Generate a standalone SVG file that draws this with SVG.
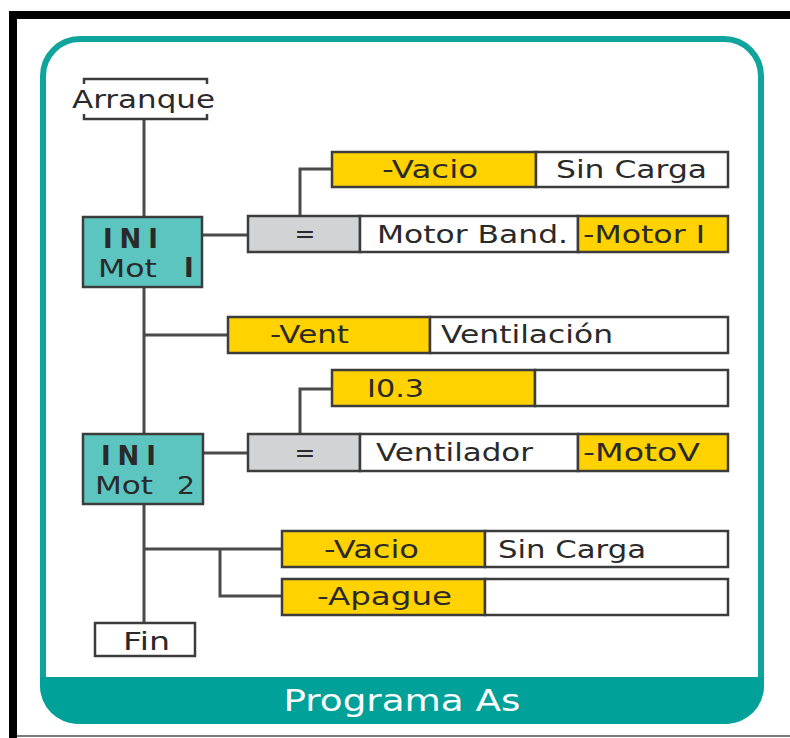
<svg xmlns="http://www.w3.org/2000/svg" width="790" height="738" viewBox="0 0 790 738">
  <style>
    text { font-family: "DejaVu Sans", "Liberation Sans", sans-serif; fill: #2a2a2a; }
    .lbl { font-size: 25px; }
    .box { stroke: #3c3c3c; stroke-width: 2.5; }
    .y { fill: #ffd200; }
    .w { fill: #ffffff; }
    .g { fill: #d1d3d4; }
    .t { fill: #5cc5bf; }
    .wire { fill: none; stroke: #4a4a4a; stroke-width: 3; }
    .ini { font-size: 26px; font-weight: bold; }
    .mot { font-size: 25px; }
  </style>

  <!-- page -->
  <rect x="0" y="0" width="790" height="738" fill="#ffffff"/>
  <rect x="9" y="11" width="781" height="8" fill="#000000"/>
  <rect x="9" y="11" width="8" height="727" fill="#000000"/>
  <rect x="17" y="735" width="773" height="2" fill="#7a7a7a"/>

  <!-- panel -->
  <rect x="43" y="39" width="718" height="682" rx="37" ry="37" fill="none" stroke="#0fa49c" stroke-width="6"/>
  <path d="M40 677 H764 V686 A38 38 0 0 1 726 724 H78 A38 38 0 0 1 40 686 Z" fill="#00a199"/>
  <text x="402" y="711" font-size="30" text-anchor="middle" textLength="237" lengthAdjust="spacingAndGlyphs" style="fill:#ffffff">Programa As</text>

  <!-- connectors -->
  <g id="connectors" class="wire">
    <path d="M144 119 V217"/>
    <path d="M144 287 V434"/>
    <path d="M144 504 V623"/>
    <path d="M202 235 H248"/>
    <path d="M300 216 V169 H332"/>
    <path d="M144 335 H228"/>
    <path d="M300 434 V389 H332"/>
    <path d="M202 453 H248"/>
    <path d="M144 549 H282"/>
    <path d="M220 549 V596 H282"/>
  </g>

  <g id="arranque">
    <path d="M84 84 V79 H207 V84 M84 114 V119 H207 V114" fill="none" stroke="#3c3c3c" stroke-width="2.5"/>
    <text class="lbl" x="72" y="108" textLength="143" lengthAdjust="spacingAndGlyphs">Arranque</text>
  </g>

  <g id="ini-mot-1">
    <rect class="box t" x="83" y="217" width="119" height="70"/>
    <text class="ini" x="103" y="248" textLength="55" lengthAdjust="spacing">INI</text>
    <text class="mot" x="98" y="277" textLength="59" lengthAdjust="spacingAndGlyphs">Mot</text>
    <text class="ini" x="184" y="277">I</text>
  </g>

  <g id="vacio-1">
    <rect class="box y" x="332" y="152" width="204" height="35"/>
    <rect class="box w" x="536" y="152" width="192" height="35"/>
    <text class="lbl" x="382" y="178" textLength="96" lengthAdjust="spacingAndGlyphs">-Vacio</text>
    <text class="lbl" x="556" y="178" textLength="151" lengthAdjust="spacingAndGlyphs">Sin Carga</text>
  </g>

  <g id="motor-band">
    <rect class="box g" x="248" y="216" width="112" height="36"/>
    <rect class="box w" x="360" y="216" width="218" height="36"/>
    <rect class="box y" x="578" y="216" width="150" height="36"/>
    <text class="lbl" x="305" y="242" text-anchor="middle">=</text>
    <text class="lbl" x="377" y="243" textLength="191" lengthAdjust="spacingAndGlyphs">Motor Band.</text>
    <text class="lbl" x="583" y="243" textLength="122" lengthAdjust="spacingAndGlyphs">-Motor I</text>
  </g>

  <g id="vent">
    <rect class="box y" x="228" y="317" width="202" height="36"/>
    <rect class="box w" x="430" y="317" width="298" height="36"/>
    <text class="lbl" x="270" y="343" textLength="79" lengthAdjust="spacingAndGlyphs">-Vent</text>
    <text class="lbl" x="441" y="343" textLength="172" lengthAdjust="spacingAndGlyphs">Ventilación</text>
  </g>

  <g id="i03">
    <rect class="box y" x="332" y="370" width="203" height="36"/>
    <rect class="box w" x="535" y="370" width="193" height="36"/>
    <text class="lbl" x="367" y="397" textLength="57" lengthAdjust="spacingAndGlyphs">I0.3</text>
  </g>

  <g id="ini-mot-2">
    <rect class="box t" x="83" y="434" width="120" height="70"/>
    <text class="ini" x="101" y="465" textLength="55" lengthAdjust="spacing">INI</text>
    <text class="mot" x="95" y="494" textLength="58" lengthAdjust="spacingAndGlyphs">Mot</text>
    <text class="mot" x="177" y="494" textLength="18" lengthAdjust="spacingAndGlyphs">2</text>
  </g>

  <g id="ventilador">
    <rect class="box g" x="248" y="434" width="112" height="37"/>
    <rect class="box w" x="360" y="434" width="218" height="37"/>
    <rect class="box y" x="578" y="434" width="150" height="37"/>
    <text class="lbl" x="305" y="461" text-anchor="middle">=</text>
    <text class="lbl" x="376" y="461" textLength="157" lengthAdjust="spacingAndGlyphs">Ventilador</text>
    <text class="lbl" x="583" y="461" textLength="117" lengthAdjust="spacingAndGlyphs">-MotoV</text>
  </g>

  <g id="vacio-2">
    <rect class="box y" x="282" y="531" width="203" height="36"/>
    <rect class="box w" x="485" y="531" width="243" height="36"/>
    <text class="lbl" x="324" y="558" textLength="95" lengthAdjust="spacingAndGlyphs">-Vacio</text>
    <text class="lbl" x="498" y="558" textLength="148" lengthAdjust="spacingAndGlyphs">Sin Carga</text>
  </g>

  <g id="apague">
    <rect class="box y" x="282" y="579" width="203" height="36"/>
    <rect class="box w" x="485" y="579" width="243" height="36"/>
    <text class="lbl" x="317" y="605" textLength="135" lengthAdjust="spacingAndGlyphs">-Apague</text>
  </g>

  <g id="fin">
    <rect class="box w" x="95" y="623" width="100" height="33"/>
    <text class="lbl" x="123" y="650" textLength="47" lengthAdjust="spacingAndGlyphs">Fin</text>
  </g>
</svg>
